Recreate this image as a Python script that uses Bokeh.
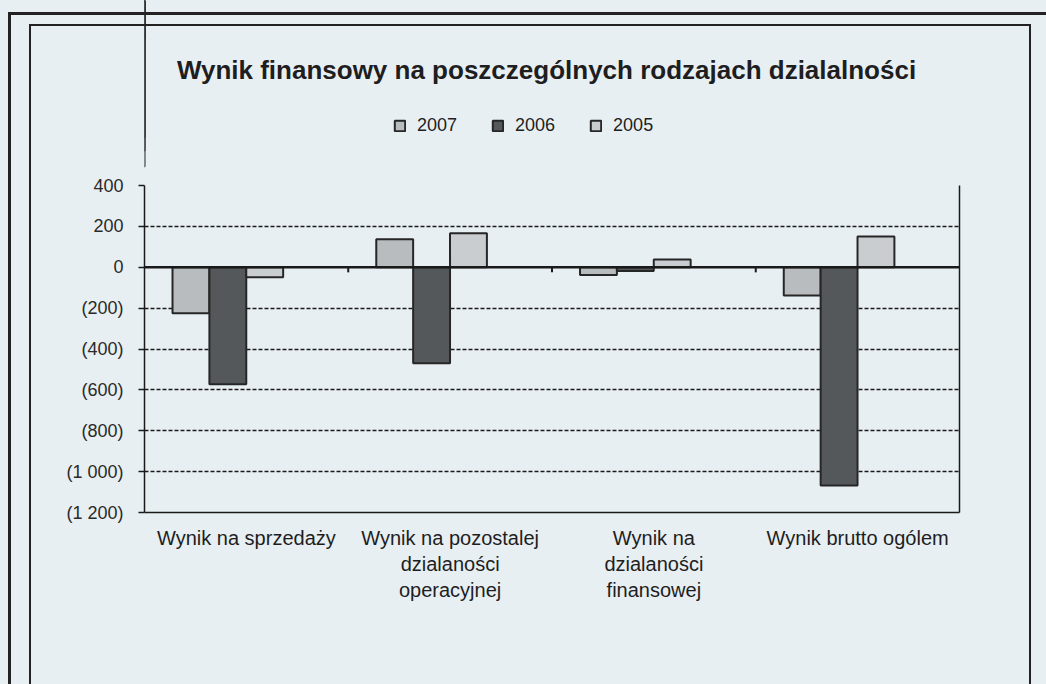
from bokeh.plotting import figure
from bokeh.layouts import column
from bokeh.models import (Range1d, LinearAxis, FixedTicker, Legend, LegendItem, Label,
                          ColumnDataSource, Span, InlineStyleSheet)
from bokeh.transform import dodge
from bokeh.embed import file_html
from bokeh.resources import INLINE

categories = ["Wynik na sprzedaży", "Wynik na pozostalej\ndzialaności\noperacyjnej",
              "Wynik na\ndzialaności\nfinansowej", "Wynik brutto ogólem"]
series_names = ["2007", "2006", "2005"]
v2007 = [-225, 137, -38, -138]
v2006 = [-572, -470, -18, -1068]
v2005 = [-49, 166, 38, 150]
y_ticks = [400, 200, 0, -200, -400, -600, -800, -1000, -1200]
y_tick_labels = ["400", "200", "0", "(200)", "(400)", "(600)", "(800)", "(1 000)", "(1 200)"]
title_text = "Wynik finansowy na poszczególnych rodzajach dzialalności"

BG = "#e8eff3"
INK = "#1e1e1e"
FONT = "Liberation Sans"
fills = ["#b8bcbf", "#55585a", "#c9cdd0"]
offsets = [-0.272, -0.091, 0.09]
cols = ["v2007", "v2006", "v2005"]

n = len(categories)
centers = [i + 0.5 for i in range(n)]
boundaries = [i for i in range(1, n)]
src = ColumnDataSource(dict(pos=centers, v2007=v2007, v2006=v2006, v2005=v2005))

FRAME_L, FRAME_R = 144, 959   # plot-area edges in page pixels (header frame aligns with them)

# ---------- header: title + legend ----------
HEAD_H = 170
head = figure(width=1046, height=HEAD_H, x_range=Range1d(FRAME_L, FRAME_R),
              y_range=Range1d(HEAD_H, 0),
              x_axis_type=None, y_axis_type=None, output_backend="svg", toolbar_location=None,
              min_border=0)
head.background_fill_color = BG
head.border_fill_color = BG
head.outline_line_color = None
head.xgrid.grid_line_color = None
head.ygrid.grid_line_color = None
head.extra_x_ranges = {"off": Range1d(100, 200)}

head.add_layout(Label(x=546, y=69, text=title_text, text_align="center", text_baseline="middle",
                      text_font=FONT, text_font_size="26px", text_font_style="bold",
                      text_color=INK))

# legend swatch renderers (same series, mapped off-canvas in the header)
swatches = []
for c, f, o in zip(cols, fills, offsets):
    r = head.vbar(x=dodge("pos", o), top=c, bottom=0, width=0.181, source=src,
                  x_range_name="off",
                  fill_color=f, line_color="#262626", line_width=2)
    swatches.append(r)
legend = Legend(items=[LegendItem(label=s, renderers=[r]) for s, r in zip(series_names, swatches)],
                orientation="horizontal", location=(393 - FRAME_L, HEAD_H - 136))
legend.background_fill_alpha = 0
legend.border_line_color = None
legend.padding = 0
legend.margin = 0
legend.glyph_width = 13
legend.glyph_height = 13
legend.label_standoff = 11
legend.spacing = 34
legend.label_text_font = FONT
legend.label_text_font_size = "18px"
legend.label_text_color = INK
head.add_layout(legend, "center")

# ---------- main chart ----------
p = figure(x_range=Range1d(0, n), y_range=Range1d(-1200, 400),
           width=1046, height=684 - HEAD_H, output_backend="svg", toolbar_location=None,
           min_border_left=FRAME_L, min_border_right=1046 - FRAME_R, min_border_top=185 - HEAD_H,
           min_border_bottom=172)
p.background_fill_color = BG
p.border_fill_color = BG
p.outline_line_color = None

for c, f, o in zip(cols, fills, offsets):
    p.vbar(x=dodge("pos", o), top=c, bottom=0, width=0.181, source=src,
           fill_color=f, line_color="#262626", line_width=2)

p.xgrid.grid_line_color = None
p.ygrid.ticker = FixedTicker(ticks=[t for t in y_ticks if t not in (0, -1200)])
p.ygrid.grid_line_color = "#1a1a1a"
p.ygrid.grid_line_dash = "4 2"
p.ygrid.grid_line_width = 1.3

p.add_layout(Span(location=0, dimension="width", line_color="#1a1a1a", line_width=2.5))
p.segment(x0=boundaries, x1=boundaries, y0=[0] * len(boundaries), y1=[-25] * len(boundaries),
          line_color="#1a1a1a", line_width=2)

ya = p.yaxis[0]
ya.ticker = FixedTicker(ticks=y_ticks)
ya.major_label_overrides = {t: l for t, l in zip(y_ticks, y_tick_labels)}
ya.major_label_text_font = FONT
ya.major_label_text_font_size = "18px"
ya.major_label_text_color = "#2a2a2a"
ya.axis_line_color = "#1a1a1a"
ya.axis_line_width = 1.5
ya.major_tick_out = 6
ya.major_tick_in = 0
ya.major_tick_line_color = "#1a1a1a"
ya.major_tick_line_width = 1.5
ya.minor_tick_line_color = None
ya.major_label_standoff = 15

xa = p.xaxis[0]
xa.ticker = FixedTicker(ticks=centers)
xa.major_label_overrides = {c: l for c, l in zip(centers, categories)}
xa.major_label_text_font = FONT
xa.major_label_text_font_size = "20px"
xa.major_label_text_color = INK
xa.axis_line_color = "#1a1a1a"
xa.axis_line_width = 1.5
xa.major_tick_line_color = None
xa.minor_tick_line_color = None
xa.major_label_standoff = 8

rax = LinearAxis(ticker=FixedTicker(ticks=[]))
rax.axis_line_color = "#1a1a1a"
rax.axis_line_width = 1.5
rax.major_tick_line_color = None
rax.minor_tick_line_color = None
p.add_layout(rax, "right")

frames_css = InlineStyleSheet(css="""
:host::after { content: ""; position: absolute; left: 8px; top: 12px; right: 0; bottom: 0;
  border-left: 3px solid #222; border-top: 3px solid #222; pointer-events: none; z-index: 50; }
:host::before { content: ""; position: absolute; left: 29px; top: 24px; right: 15px; bottom: 0;
  border-left: 2px solid #222; border-top: 2px solid #222; border-right: 2px solid #222;
  pointer-events: none; z-index: 50; }
""")

layout = column(head, p, spacing=0, stylesheets=[frames_css],
                styles={"background-color": BG})

open("out.html", "w").write(file_html(layout, INLINE))
